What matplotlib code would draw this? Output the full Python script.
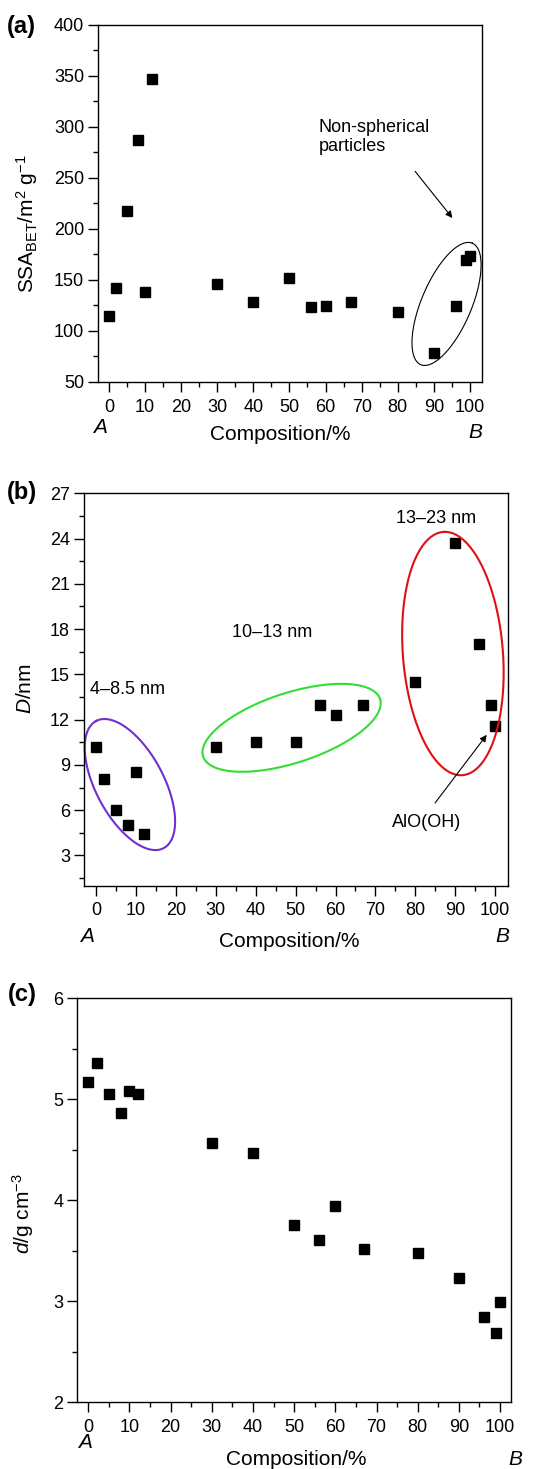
import numpy as np
import matplotlib
matplotlib.use("Agg")
import matplotlib.pyplot as plt
from matplotlib.ticker import MultipleLocator

plt.rcParams['font.family'] = ['Liberation Sans', 'DejaVu Sans']
plt.rcParams['mathtext.fontset'] = 'custom'
plt.rcParams['mathtext.rm'] = 'Liberation Sans'
plt.rcParams['mathtext.it'] = 'Liberation Sans:italic'

# composition (%) shared by all panels
comp = [0, 2, 5, 8, 10, 12, 30, 40, 50, 56, 60, 67, 80, 90, 96, 99, 100]
# (a) BET specific surface area, m2/g
ssa = [115, 142, 218, 287, 138, 347, 146, 128, 152, 123, 124, 128, 119, 78, 124, 170, 173]
# (b) crystallite size, nm
size_nm = [10.2, 8.1, 6.0, 5.0, 8.5, 4.4, 10.2, 10.5, 10.5, 13.0, 12.3, 13.0, 14.5, 23.7, 17.0, 13.0, 11.6]
# (c) density, g/cm3
density = [5.17, 5.36, 5.05, 4.86, 5.08, 5.05, 4.57, 4.47, 3.76, 3.61, 3.94, 3.52, 3.48, 3.23, 2.84, 2.69, 2.99]

xticks = [0, 10, 20, 30, 40, 50, 60, 70, 80, 90, 100]

fig = plt.figure(figsize=(5.34, 14.69), dpi=100)
ax_a = fig.add_axes([0.1835, 0.740, 0.719, 0.243])
ax_b = fig.add_axes([0.1573, 0.3971, 0.794, 0.2671])
ax_c = fig.add_axes([0.1448, 0.0454, 0.8116, 0.275])

TICK_FS = 13
LAB_FS = 15
TXT_FS = 13


def style(ax, xlim, ylim, ymaj, ymin, label, lbl_y, xl_x, yl_x, yl_y, ab_y):
    ax.set_xlim(*xlim)
    ax.set_ylim(*ylim)
    ax.set_xticks(xticks)
    ax.xaxis.set_minor_locator(MultipleLocator(5))
    ax.yaxis.set_major_locator(MultipleLocator(ymaj))
    ax.yaxis.set_minor_locator(MultipleLocator(ymin))
    ax.tick_params(which='both', direction='out', top=False, right=False,
                   labelsize=TICK_FS, width=1.0, pad=3)
    ax.tick_params(axis='x', which='major', pad=5)
    ax.tick_params(which='major', length=7)
    ax.tick_params(which='minor', length=3.5)
    for s in ax.spines.values():
        s.set_linewidth(1.0)
    ax.set_xlabel('Composition/%', fontsize=LAB_FS)
    ax.xaxis.set_label_coords(xl_x, lbl_y)
    ax.xaxis.label.set_va('center')
    ax.set_ylabel(label, fontsize=LAB_FS)
    ax.yaxis.set_label_coords(yl_x, yl_y)
    ax.yaxis.label.set_va('center')
    ax.annotate('A', xy=(ab_y[0], ab_y[1]), xycoords=('data', 'axes fraction'),
                fontsize=LAB_FS, style='italic', ha='center', va='center')
    ax.annotate('B', xy=(ab_y[2], ab_y[3]), xycoords=('data', 'axes fraction'),
                fontsize=LAB_FS, style='italic', ha='center', va='center',
                annotation_clip=False)


def ellipse(ax, xc, yc, a, b, ang, color, lw):
    # a, b in pixels, ang in degrees (screen, y up)
    t = np.linspace(0, 2 * np.pi, 300)
    th = np.deg2rad(ang)
    px = a * np.cos(t) * np.cos(th) - b * np.sin(t) * np.sin(th)
    py = a * np.cos(t) * np.sin(th) + b * np.sin(t) * np.cos(th)
    c = ax.transData.transform((xc, yc))
    pts = ax.transData.inverted().transform(np.column_stack([c[0] + px, c[1] + py]))
    ax.plot(pts[:, 0], pts[:, 1], color=color, lw=lw, clip_on=False)


ms = 7.2
arrow = dict(arrowstyle='-|>', lw=0.8, color='black', mutation_scale=10)

# (a)
ax_a.plot(comp, ssa, 's', color='black', ms=ms, ls='none')
style(ax_a, (-3, 103.3), (50, 400), 50, 25,
      r'SSA$_{\mathrm{BET}}$/m$^{2}$ g$^{-1}$', -0.148, 0.476, -0.186, 0.443,
      (-2.5, -0.128, 101.4, -0.142))
ellipse(ax_a, 93.5, 126.5, 66, 25, 67, 'black', 0.8)
ax_a.text(58, 290, 'Non-spherical\nparticles', fontsize=TXT_FS, ha='left', va='center',
          linespacing=1.15)
ax_a.annotate('', xy=(95.6, 208.6), xytext=(84.3, 258.7), arrowprops=arrow)
fig.text(0.012, 1 - 27 / 1469, '(a)', fontsize=17, fontweight='bold', va='center')

# (b)
ax_b.plot(comp, size_nm, 's', color='black', ms=ms, ls='none')
style(ax_b, (-3, 103.2), (1, 27), 3, 1.5,
      r'$D$/nm', -0.1427, 0.483, -0.139, 0.503,
      (-2.2, -0.130, 101.8, -0.130))
ellipse(ax_b, 8.5, 7.7, 72, 34, 118, '#7030d0', 1.5)
ellipse(ax_b, 49.0, 11.46, 93, 35, 18, '#33dd33', 1.5)
ellipse(ax_b, 89.4, 16.38, 122, 50, 94.5, '#dd1111', 1.5)
ax_b.text(-1.5, 14.0, '4–8.5 nm', fontsize=TXT_FS, ha='left', va='center')
ax_b.text(44, 17.8, '10–13 nm', fontsize=TXT_FS, ha='center', va='center')
ax_b.text(85.3, 25.3, '13–23 nm', fontsize=TXT_FS, ha='center', va='center')
ax_b.text(82.8, 5.2, 'AlO(OH)', fontsize=TXT_FS, ha='center', va='center')
ax_b.annotate('', xy=(98.3, 11.14), xytext=(84.5, 6.33), arrowprops=arrow)
fig.text(0.012, 1 - 493 / 1469, '(b)', fontsize=17, fontweight='bold', va='center')

# (c)
ax_c.plot(comp, density, 's', color='black', ms=ms, ls='none')
style(ax_c, (-2.67, 102.6), (2, 6), 1, 0.5,
      r'$d$/g cm$^{-3}$', -0.1428, 0.506, -0.125, 0.466,
      (-0.8, -0.1007, 103.6, -0.1428))
fig.text(0.015, 1 - 995 / 1469, '(c)', fontsize=17, fontweight='bold', va='center')

fig.savefig('out.png', dpi=100)
